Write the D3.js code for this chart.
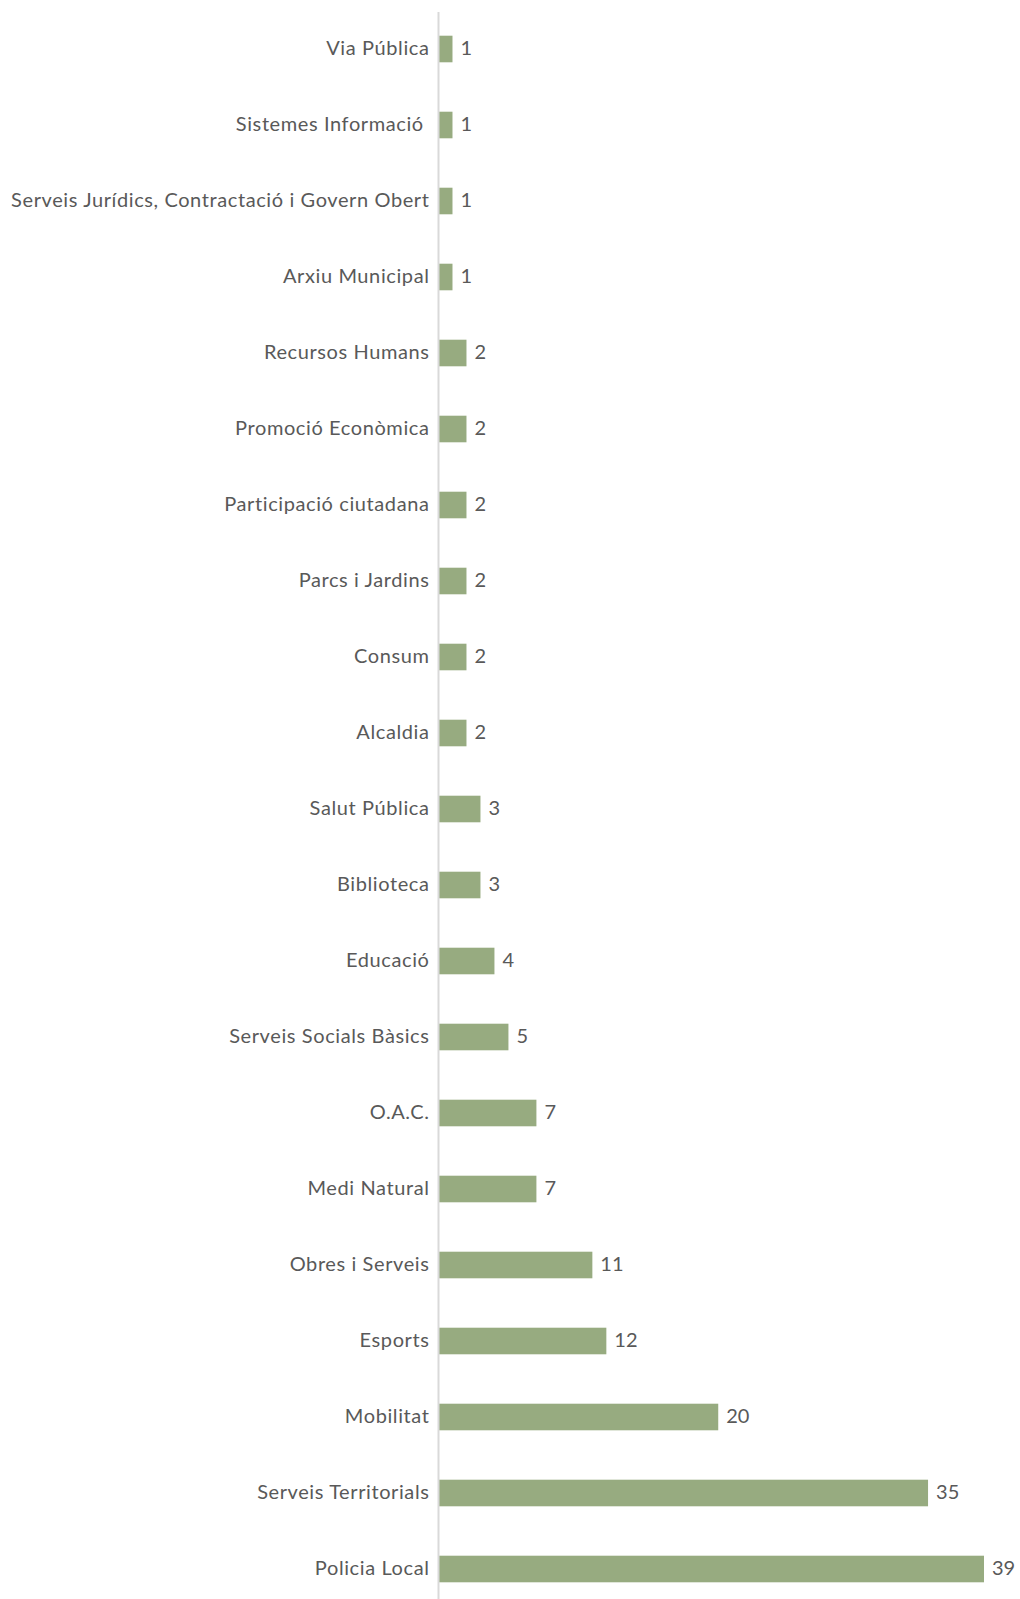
<html>
<head>
	<meta charset="utf-8">
	<title>Bar chart</title>
	<script src="https://d3js.org/d3.v7.min.js"></script>
	<style type="text/css">
		body {
			margin: 0;
			padding: 0;
			background: #fff;
		}
		text {
			font-family: Lato, "Open Sans", sans-serif;
			fill: #595959;
			white-space: pre;
		}
	</style>
</head>
<body>

<div id="chart"></div>

<script>

var categories = ["Via Pública", "Sistemes Informació ", "Serveis Jurídics, Contractació i Govern Obert",
	"Arxiu Municipal", "Recursos Humans", "Promoció Econòmica", "Participació ciutadana",
	"Parcs i Jardins", "Consum", "Alcaldia", "Salut Pública", "Biblioteca", "Educació",
	"Serveis Socials Bàsics", "O.A.C.", "Medi Natural", "Obres i Serveis", "Esports",
	"Mobilitat", "Serveis Territorials", "Policia Local"];
var values = [1, 1, 1, 1, 2, 2, 2, 2, 2, 2, 3, 3, 4, 5, 7, 7, 11, 12, 20, 35, 39];

var ww = 1020,
	wh = 1599;

var x0 = 438.5; // axis position

var x = d3.scaleLinear()
	.domain([0, 39])
	.range([x0, 984]);

var y = d3.scaleBand()
	.domain(categories)
	.range([11, 11 + 76 * categories.length])
	.paddingInner(0.65)
	.paddingOuter(0.325);

var svg = d3.select("#chart").append("svg")
	.attr("width", ww)
	.attr("height", wh);

var data = categories.map(function(c, i) { return {name: c, value: values[i]}; });

svg.selectAll("rect.bar")
	.data(data)
	.enter().append("rect")
	.attr("class", "bar")
	.attr("x", x(0))
	.attr("y", function(d) { return y(d.name); })
	.attr("width", function(d) { return x(d.value) - x(0); })
	.attr("height", y.bandwidth())
	.attr("fill", "#97ab80");

// category axis line
svg.append("line")
	.attr("x1", x0).attr("x2", x0)
	.attr("y1", 12).attr("y2", wh)
	.attr("stroke", "#d9d9d9")
	.attr("stroke-width", 2);

// category labels
svg.selectAll("text.cat")
	.data(data)
	.enter().append("text")
	.attr("class", "cat")
	.attr("x", x0 - 9)
	.attr("y", function(d) { return y(d.name) + y.bandwidth() / 2 - 1; })
	.attr("dy", "0.35em")
	.attr("text-anchor", "end")
	.style("font-size", "20px")
	.style("letter-spacing", "0.6px")
	.text(function(d) { return d.name; });

// value labels
svg.selectAll("text.val")
	.data(data)
	.enter().append("text")
	.attr("class", "val")
	.attr("x", function(d) { return x(d.value) + 8; })
	.attr("y", function(d) { return y(d.name) + y.bandwidth() / 2 - 1; })
	.attr("dy", "0.35em")
	.style("font-size", "20px")
	.text(function(d) { return d.value; });

</script>
</body>
</html>
